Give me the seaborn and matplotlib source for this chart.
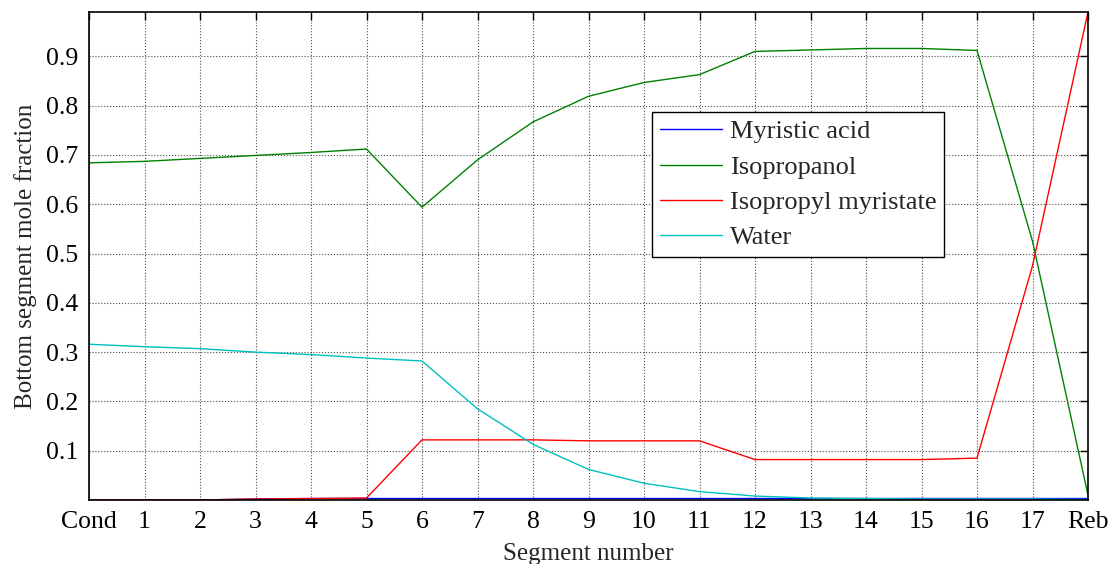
import numpy as np
import pandas as pd
import matplotlib
matplotlib.use("Agg")
import matplotlib.pyplot as plt
import seaborn as sns

segments = ["Cond", "1", "2", "3", "4", "5", "6", "7", "8", "9", "10",
            "11", "12", "13", "14", "15", "16", "17", "Reb"]

myristic_acid = [0.000, 0.000, 0.000, 0.002, 0.003, 0.003, 0.003, 0.003, 0.003, 0.003,
                 0.003, 0.003, 0.003, 0.003, 0.003, 0.003, 0.003, 0.003, 0.003]
isopropanol = [0.684, 0.687, 0.693, 0.699, 0.705, 0.712, 0.594, 0.690, 0.767, 0.819,
               0.847, 0.863, 0.910, 0.913, 0.916, 0.916, 0.912, 0.525, 0.010]
isopropyl_myristate = [0.000, 0.000, 0.000, 0.002, 0.003, 0.004, 0.122, 0.122, 0.122, 0.120,
                       0.120, 0.120, 0.082, 0.082, 0.082, 0.082, 0.085, 0.475, 0.990]
water = [0.316, 0.311, 0.307, 0.300, 0.295, 0.288, 0.282, 0.185, 0.113, 0.062,
         0.034, 0.017, 0.008, 0.004, 0.003, 0.002, 0.002, 0.002, 0.001]

series_names = ["Myristic acid", "Isopropanol", "Isopropyl myristate", "Water"]
y_ticks = [0.1, 0.2, 0.3, 0.4, 0.5, 0.6, 0.7, 0.8, 0.9]

rows = []
for name, vals in zip(series_names, [myristic_acid, isopropanol, isopropyl_myristate, water]):
    for i, v in enumerate(vals):
        rows.append({"pos": i, "value": v, "component": name})
df = pd.DataFrame(rows)

sns.set_theme(style="white")
plt.rcParams["font.family"] = ["Liberation Serif", "DejaVu Serif"]
plt.rcParams["mathtext.fontset"] = "stix"

fig = plt.figure(figsize=(11.15, 5.64), dpi=100)
ax = fig.add_axes([89 / 1115, 1 - 500 / 564, (1088 - 89) / 1115, (500 - 12) / 564])

palette = {"Myristic acid": (0, 0, 1), "Isopropanol": (0, 0.5, 0),
           "Isopropyl myristate": (1, 0, 0), "Water": (0, 0.75, 0.75)}
sns.lineplot(data=df, x="pos", y="value", hue="component", palette=palette,
             hue_order=series_names, linewidth=1.0, ax=ax, legend=True)

ax.set_xlim(0, len(segments) - 1)
ax.set_ylim(0, 0.99)
ax.set_xticks(range(len(segments)))
ax.set_xticklabels(segments)
ax.set_yticks(y_ticks)
ax.set_yticklabels([f"{t:.1f}" for t in y_ticks])
ax.tick_params(axis="both", which="both", direction="in", length=6, width=1.0,
               top=True, right=True, labelsize=18.5, colors="black")
ax.tick_params(axis="x", pad=8)
ax.tick_params(axis="y", pad=8)
ax.grid(True, linestyle=":", color="#222222", linewidth=0.8, alpha=0.8)
for s in ax.spines.values():
    s.set_visible(True)
    s.set_color("black")
    s.set_linewidth(1.2)

ax.set_xlabel("Segment number", fontsize=18, labelpad=7)
ax.set_ylabel("Bottom segment mole fraction", fontsize=18, labelpad=6)

leg = ax.legend(loc="upper left", bbox_to_anchor=(652 / 1115, 1 - 112 / 564),
                bbox_transform=fig.transFigure, borderaxespad=0, fontsize=19,
                frameon=True, fancybox=False, framealpha=1, edgecolor="black",
                handlelength=2.35, handletextpad=0.3, labelspacing=0.45,
                borderpad=0.3, title=None)
leg.get_frame().set_linewidth(1.0)

fig.savefig("out.png", dpi=100)
